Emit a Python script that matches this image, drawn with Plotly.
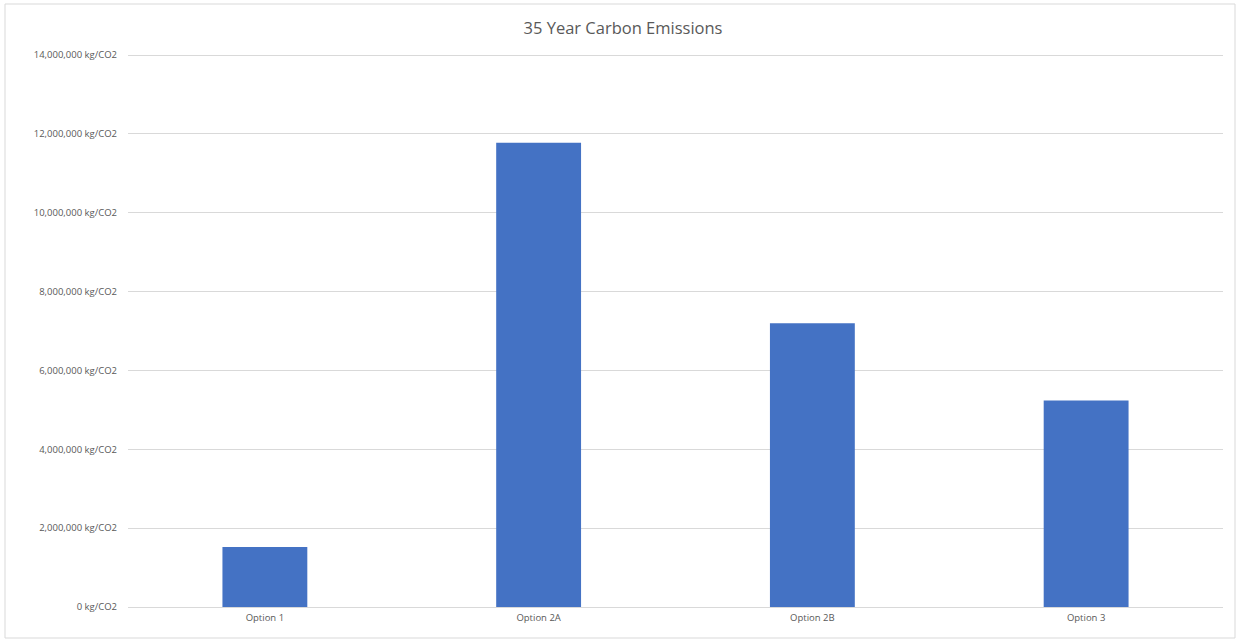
import plotly.graph_objects as go

# 35-year carbon emissions per option (kg CO2)
options = ["Option 1", "Option 2A", "Option 2B", "Option 3"]
emissions = [1520000, 11780000, 7200000, 5240000]
y_ticks = [0, 2000000, 4000000, 6000000, 8000000, 10000000, 12000000, 14000000]
y_tick_text = [f"{v:,} kg/CO2" for v in y_ticks]

W, H = 1237, 640
ml, mr, mt, mb = 128, 14, 52, 33
pw = W - ml - mr
ph = H - mt - mb

fig = go.Figure()
fig.add_trace(go.Bar(
    x=options,
    y=emissions,
    marker=dict(color="#4472C4", line=dict(width=0)),
    hoverinfo="x+y",
))

def px_to_paper_x(px):
    return (px - ml) / pw

def px_to_paper_y(py):
    return (H - mb - py) / ph

fig.update_layout(
    width=W,
    height=H,
    margin=dict(l=ml, r=mr, t=mt, b=mb),
    paper_bgcolor="white",
    plot_bgcolor="white",
    bargap=0.69,
    showlegend=False,
    font=dict(family="Open Sans, Liberation Sans, sans-serif", color="#595959"),
    title=dict(
        text="35 Year Carbon Emissions",
        x=623 / W,
        xref="container",
        xanchor="center",
        y=1 - 28 / H,
        yref="container",
        yanchor="middle",
        font=dict(size=16.5, color="#595959"),
    ),
    xaxis=dict(
        showgrid=False,
        showline=False,
        ticks="",
        tickfont=dict(size=9.5, color="#595959"),
        ticklabelstandoff=3,
    ),
    yaxis=dict(
        range=[0, 14080000],
        tickmode="array",
        tickvals=y_ticks,
        ticktext=y_tick_text,
        showgrid=True,
        gridcolor="#d9d9d9",
        gridwidth=1,
        zeroline=True,
        zerolinecolor="#d9d9d9",
        zerolinewidth=1,
        showline=False,
        ticks="",
        tickfont=dict(size=9.5, color="#595959"),
        ticklabelstandoff=10,
    ),
    shapes=[
        dict(
            type="rect",
            xref="paper",
            yref="paper",
            x0=px_to_paper_x(5),
            x1=px_to_paper_x(1235),
            y0=px_to_paper_y(638),
            y1=px_to_paper_y(4),
            line=dict(color="#d9d9d9", width=1),
            fillcolor="rgba(0,0,0,0)",
            layer="below",
        )
    ],
)

fig.write_html("out.html")
